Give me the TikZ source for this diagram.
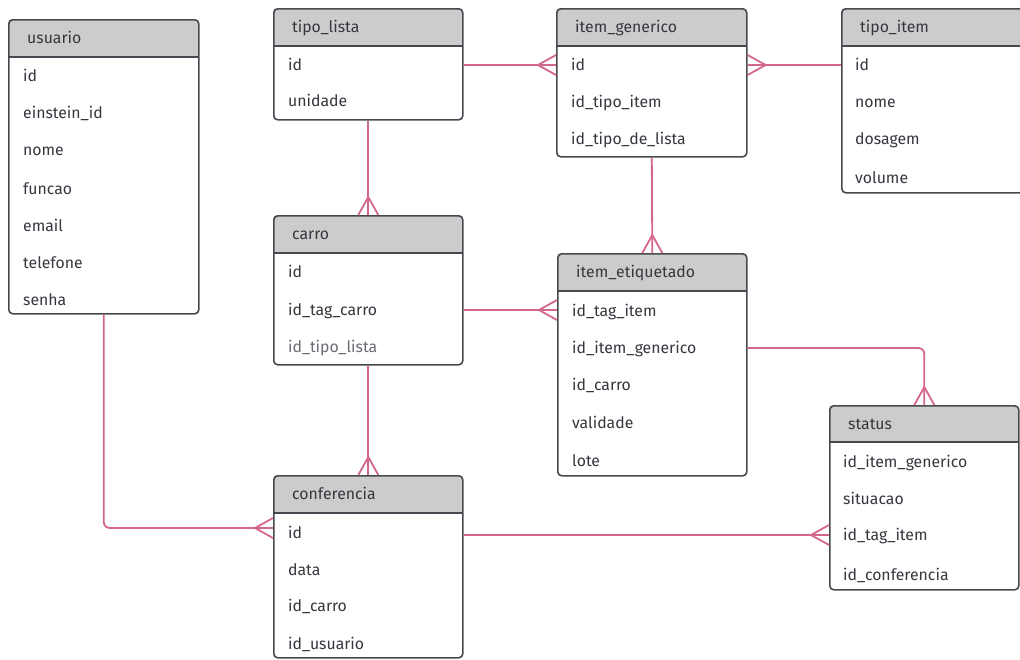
\documentclass[tikz,border=0pt]{standalone}
\usepackage{fontspec}
\setmainfont{Fira Sans}
\usetikzlibrary{calc}
\definecolor{relc}{RGB}{212,102,142}
\definecolor{bordc}{RGB}{70,74,80}
\definecolor{headc}{RGB}{204,204,204}
\definecolor{txtc}{RGB}{52,56,62}
\definecolor{lighttxt}{RGB}{105,108,114}
\newcommand\erent[7]{%
  \begin{scope}
    \clip[rounded corners=4pt] (#2,#3) rectangle (#4,#6);
    \fill[headc] (#2,#3) rectangle (#4,#5);
  \end{scope}
  \node[entity, minimum width={(#4-#2)*1pt}, minimum height={(#6-#3)*1pt}] (#1) at (#2,#3) {};
  \draw[sep] (#2,#5) -- (#4,#5);
  \node[title] (#1-t) at ({#2+19},{(#3+#5)/2}) {#7};
}
\begin{document}
\begin{tikzpicture}[x=1pt,y=-1pt,
  entity/.style={draw=bordc, line width=1.6pt, rounded corners=4pt, inner sep=0pt, anchor=north west},
  sep/.style={draw=bordc, line width=1.6pt},
  field/.style={anchor=west, inner sep=0pt, text=txtc, font=\fontsize{15.8}{18}\selectfont, text height=12pt, text depth=1pt},
  title/.style={field},
  rel/.style={draw=relc, line width=1.8pt},
  crowR/.pic={\draw[rel] (-18,0) -- (0,-10) (-18,0) -- (0,10);},
  crowL/.pic={\draw[rel] (18,0) -- (0,-10) (18,0) -- (0,10);},
  crowD/.pic={\draw[rel] (0,-18) -- (-10,0) (0,-18) -- (10,0);}
]
\path[use as bounding box] (0,0) rectangle (1020,659);
\clip (0,0) rectangle (1020,659);
\fill[white] (0,0) rectangle (1020,659);

% entities
\erent{usuario}{8}{19}{198}{57}{313}{usuario}
\node[field] (us1) at (23,76) {id};
\node[field] (us2) at (23,113) {einstein\_id};
\node[field] (us3) at (23,150) {nome};
\node[field] (us4) at (23,189) {funcao};
\node[field] (us5) at (23,226) {email};
\node[field] (us6) at (23,263) {telefone};
\node[field] (us7) at (23,300) {senha};

\erent{tipo_lista}{273}{8}{462}{46}{119}{tipo\_lista}
\node[field] (tl1) at (288,65) {id};
\node[field] (tl2) at (288,101) {unidade};

\erent{item_generico}{556}{8}{746}{46}{156}{item\_generico}
\node[field] (ig1) at (571,65) {id};
\node[field] (ig2) at (571,102) {id\_tipo\_item};
\node[field] (ig3) at (571,139) {id\_tipo\_de\_lista};

\erent{tipo_item}{841}{8}{1040}{46}{192}{tipo\_item}
\node[field] (ti1) at (855,65) {id};
\node[field] (ti2) at (855,102) {nome};
\node[field] (ti3) at (855,139) {dosagem};
\node[field] (ti4) at (855,178) {volume};

\erent{carro}{273}{215}{462}{253}{364}{carro}
\node[field] (ca1) at (288,272) {id};
\node[field] (ca2) at (288,310) {id\_tag\_carro};
\node[field, text=lighttxt] (ca3) at (288,347) {id\_tipo\_lista};

\erent{item_etiquetado}{557}{253}{746}{291}{475}{item\_etiquetado}
\node[field] (ie1) at (572,311) {id\_tag\_item};
\node[field] (ie2) at (572,348) {id\_item\_generico};
\node[field] (ie3) at (572,385) {id\_carro};
\node[field] (ie4) at (572,423) {validade};
\node[field] (ie5) at (572,461) {lote};

\erent{status}{829}{405}{1018}{442}{589}{status}
\node[field] (st1) at (843,462) {id\_item\_generico};
\node[field] (st2) at (843,499) {situacao};
\node[field] (st3) at (843,535) {id\_tag\_item};
\node[field] (st4) at (843,575) {id\_conferencia};

\erent{conferencia}{273}{475}{462}{513}{657}{conferencia}
\node[field] (cf1) at (288,533) {id};
\node[field] (cf2) at (288,570) {data};
\node[field] (cf3) at (288,606) {id\_carro};
\node[field] (cf4) at (288,644) {id\_usuario};

% relationships
\draw[rel] (tipo_lista.east |- tl1) -- (item_generico.west |- tl1);
\pic at (item_generico.west |- tl1) {crowR};

\draw[rel] (tipo_item.west |- ti1) -- (item_generico.east |- ti1);
\pic at (item_generico.east |- ti1) {crowL};

\draw[rel] (tipo_lista.south) -- (carro.north);
\pic at (carro.north) {crowD};

\draw[rel] (item_generico.south) -- (item_etiquetado.north);
\pic at (item_etiquetado.north) {crowD};

\draw[rel] (carro.east |- ca2) -- (item_etiquetado.west |- ca2);
\pic at (item_etiquetado.west |- ca2) {crowR};

\draw[rel, rounded corners=6pt] (item_etiquetado.east |- ie2) -| (status.north);
\pic at (status.north) {crowD};

\draw[rel] (carro.south) -- (conferencia.north);
\pic at (conferencia.north) {crowD};

\coordinate (cfin) at ($(conferencia.west |- cf1)+(0,-5)$);
\draw[rel, rounded corners=6pt] (usuario.south) |- (cfin);
\pic at (cfin) {crowR};

\draw[rel] (conferencia.east |- st3) -- (status.west |- st3);
\pic at (status.west |- st3) {crowR};
\end{tikzpicture}
\end{document}
